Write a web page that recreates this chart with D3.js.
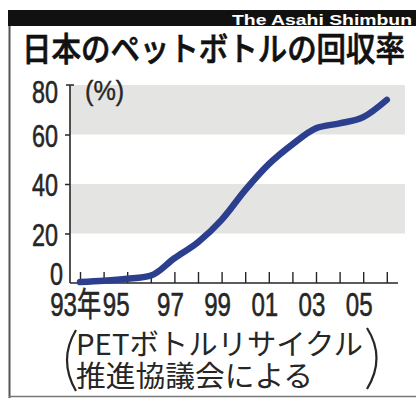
<!DOCTYPE html>
<html><head><meta charset="utf-8">
<script src="https://cdn.jsdelivr.net/npm/d3@7"></script>
<style>html,body{margin:0;padding:0;background:#fff;}svg{display:block;}</style>
</head><body>
<script>
const years = [1993,1994,1995,1996,1997,1998,1999,2000,2001,2002,2003,2004,2005,2006];
const rates = [0.4,0.9,1.7,3,10,16.5,25.5,37.5,48,56,62.5,64.5,67,74];
const yTicks = [0,20,40,60,80];
const xLabelYears = [1993,1995,1997,1999,2001,2003,2005];
const xLabels = ["93年","95","97","99","01","03","05"];
const bands = [[20,40],[60,80]];
const title = "日本のペットボトルの回収率";
const brand = "The Asahi Shimbun";
const source1 = "PETボトルリサイクル";
const source2 = "推進協議会による";
const unit = "(%)";

const W = 416, H = 398;
const svg = d3.select("body").append("svg").attr("width", W).attr("height", H);
const x = d3.scaleLinear().domain([1993, 2006]).range([80, 386.8]);
const y = d3.scaleLinear().domain([0, 80]).range([283, 85]);
const numFont = "'Liberation Sans', 'Noto Sans CJK JP', sans-serif";
const cjkFont = "'Noto Sans CJK JP', sans-serif";
const ink = "#262626";

// frame
svg.append("rect").attr("x", 8).attr("y", 10).attr("width", W - 8).attr("height", 16).attr("fill", "#111");
svg.append("text").attr("x", 412).attr("y", 25).attr("text-anchor", "end")
  .attr("font-family", "'Liberation Sans', sans-serif").attr("font-weight", "bold").attr("font-size", 15)
  .attr("fill", "#fff").attr("textLength", 180).attr("lengthAdjust", "spacingAndGlyphs").text(brand);
svg.append("line").attr("x1", 9.5).attr("x2", 9.5).attr("y1", 26).attr("y2", H).attr("stroke", "#555").attr("stroke-width", 2);
svg.append("line").attr("x1", 9).attr("x2", W).attr("y1", 396.5).attr("y2", 396.5).attr("stroke", "#777").attr("stroke-width", 1.5);

// title
svg.append("text").attr("x", 22).attr("y", 61).attr("font-family", cjkFont).attr("font-weight", 500)
  .attr("font-size", 33).attr("fill", "#111").attr("stroke", "#111").attr("stroke-width", 0.7)
  .attr("textLength", 383).attr("lengthAdjust", "spacingAndGlyphs").text(title);

// bands
svg.selectAll("rect.band").data(bands).join("rect").attr("class", "band")
  .attr("x", x.range()[0] - 10).attr("width", 405 - (x.range()[0] - 10))
  .attr("y", d => y(d[1])).attr("height", d => y(d[0]) - y(d[1]))
  .attr("fill", "#e4e4e2");

// y axis
const yAxis = svg.append("g").attr("transform", "translate(70,0)")
  .call(d3.axisLeft(y).tickValues(yTicks.filter(v => v > 0 && v < 80)).tickSizeInner(5).tickSizeOuter(0).tickFormat(""));
yAxis.select(".domain").attr("stroke", ink).attr("stroke-width", 1.6).attr("d", `M0,${y(80)}V${y(0)}`);
yAxis.selectAll(".tick line").attr("stroke", ink).attr("stroke-width", 1.5);
svg.append("line").attr("x1", 66).attr("x2", 74).attr("y1", y(80)).attr("y2", y(80)).attr("stroke", ink).attr("stroke-width", 1.5);

// y labels
yTicks.forEach(v => {
  const dy = v === 80 ? 18 : (v === 0 ? 2 : 12);
  const xe = v === 0 ? 63 : 58;
  svg.append("text").attr("transform", `translate(${xe},${y(v) + dy}) scale(0.73,1)`)
    .attr("text-anchor", "end").attr("font-family", numFont).attr("font-size", 32)
    .attr("fill", ink).attr("stroke", ink).attr("stroke-width", 0.6).text(v);
});
svg.append("text").attr("transform", "translate(85,100) scale(0.9,1)")
  .attr("font-family", numFont).attr("font-size", 28).attr("fill", ink).attr("stroke", ink).attr("stroke-width", 0.4).text(unit);

// x axis
const xAxis = svg.append("g").attr("transform", `translate(0,${y(0)})`)
  .call(d3.axisTop(x).tickValues(years).tickSizeInner(11).tickSizeOuter(0).tickFormat(""));
xAxis.select(".domain").attr("stroke", ink).attr("stroke-width", 1.6).attr("d", "M70,0H398");
xAxis.selectAll(".tick line").attr("stroke", ink).attr("stroke-width", 1.4);

// x labels
xLabelYears.forEach((yr, i) => {
  let px, anchor = "middle";
  if (i === 0) { px = x(yr) + 21; anchor = "end"; }
  else if (i === 1) px = x(yr) - 11;
  else px = x(yr) - 4;
  svg.append("text").attr("transform", `translate(${px},316) scale(0.73,1)`)
    .attr("text-anchor", anchor).attr("font-family", numFont).attr("font-size", 33)
    .attr("fill", ink).attr("stroke", ink).attr("stroke-width", 0.6).text(xLabels[i]);
});

// line
const line = d3.line().x((d, i) => x(years[i])).y(d => y(d)).curve(d3.curveMonotoneX);
svg.append("path").datum(rates).attr("d", line).attr("fill", "none")
  .attr("stroke", "#2b3f8e").attr("stroke-width", 6.5).attr("stroke-linecap", "round").attr("stroke-linejoin", "round");

// source
svg.append("text").attr("x", 76).attr("y", 355).attr("font-family", cjkFont).attr("font-size", 29)
  .attr("fill", ink).attr("textLength", 287).attr("lengthAdjust", "spacingAndGlyphs").text(source1);
svg.append("text").attr("x", 76).attr("y", 387).attr("font-family", cjkFont).attr("font-size", 29)
  .attr("fill", ink).attr("textLength", 237).attr("lengthAdjust", "spacingAndGlyphs").text(source2);
svg.append("path").attr("d", "M76,330 Q58,360 76,391").attr("fill", "none").attr("stroke", ink).attr("stroke-width", 2.2);
svg.append("path").attr("d", "M367,328 Q386,358 367,389").attr("fill", "none").attr("stroke", ink).attr("stroke-width", 2.2);
</script>
</body></html>
